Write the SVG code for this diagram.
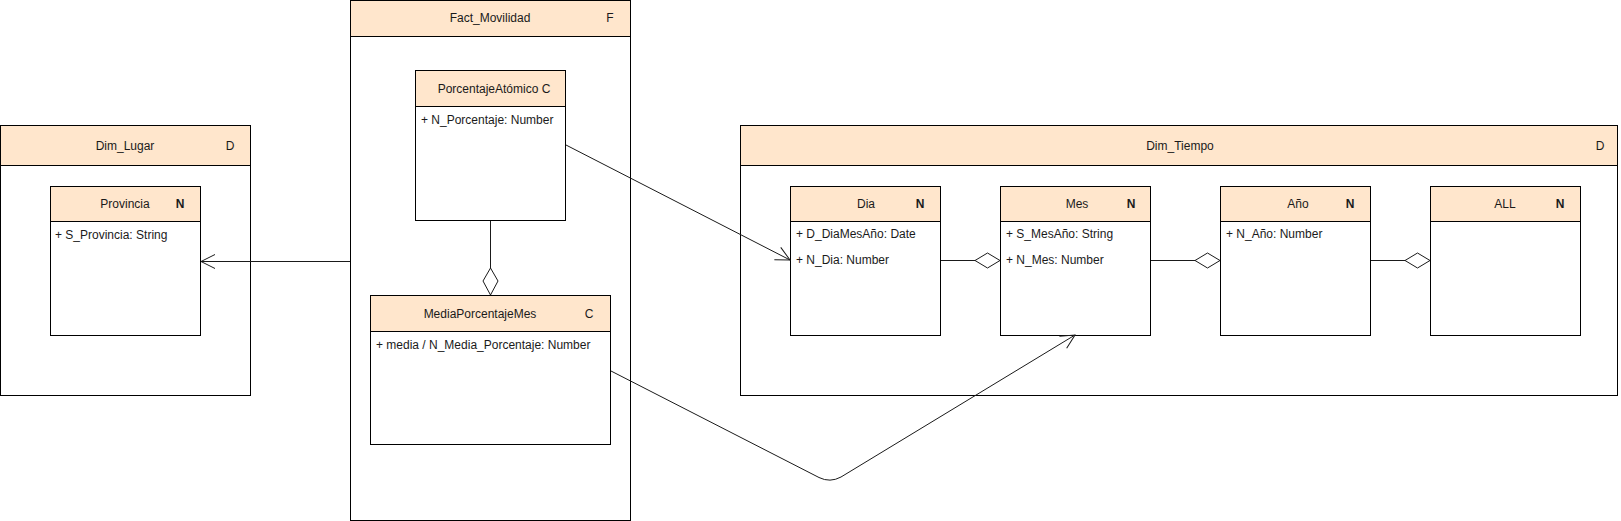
<svg xmlns="http://www.w3.org/2000/svg" width="1621" height="521" viewBox="0 0 1621 521">
<style>
.box{fill:#fff;stroke:#000;stroke-width:1}
.hdr{fill:#FFE6CC;stroke:#000;stroke-width:1}
text{font-family:"Liberation Sans",Arial,Helvetica,sans-serif;font-size:12px;fill:#1a1a1a}
.c{text-anchor:middle}
.b{font-weight:bold}
.edge{fill:none;stroke:#1a1a1a;stroke-width:1}
.agg{fill:#fff;stroke:#1a1a1a;stroke-width:1}
</style>
<defs>
<marker id="open" markerUnits="userSpaceOnUse" markerWidth="20" markerHeight="20" viewBox="-16 -10 20 20" refX="0" refY="0" orient="auto">
<path d="M-14,-7 L0,0 L-14,7" fill="none" stroke="#1a1a1a" stroke-width="1"/>
</marker>
</defs>
<rect width="1621" height="521" fill="#fff"/>

<g id="dim_lugar">
<rect class="box" x="0.5" y="125.5" width="250" height="270"/>
<rect class="hdr" x="0.5" y="125.5" width="250" height="40"/>
<text class="c" x="125" y="150">Dim_Lugar</text>
<text class="c" x="230" y="150">D</text>
</g>

<g id="provincia">
<rect class="box" x="50.5" y="186.5" width="150" height="149"/>
<rect class="hdr" x="50.5" y="186.5" width="150" height="35"/>
<text class="c" x="125" y="208">Provincia</text>
<text class="c b" x="180" y="208">N</text>
<text x="55" y="239">+ S_Provincia: String</text>
</g>

<g id="fact_movilidad">
<rect class="box" x="350.5" y="0.5" width="280" height="520"/>
<rect class="hdr" x="350.5" y="0.5" width="280" height="36"/>
<text class="c" x="490" y="22">Fact_Movilidad</text>
<text class="c" x="610" y="22">F</text>
</g>

<g id="porcentaje_atomico">
<rect class="box" x="415.5" y="70.5" width="150" height="150"/>
<rect class="hdr" x="415.5" y="70.5" width="150" height="36"/>
<text class="c" x="494" y="93">PorcentajeAtómico C</text>
<text x="421" y="124">+ N_Porcentaje: Number</text>
</g>

<g id="media_porcentaje_mes">
<rect class="box" x="370.5" y="295.5" width="240" height="149"/>
<rect class="hdr" x="370.5" y="295.5" width="240" height="36"/>
<text class="c" x="480" y="318">MediaPorcentajeMes</text>
<text class="c" x="589" y="318">C</text>
<text x="376" y="349">+ media / N_Media_Porcentaje: Number</text>
</g>

<g id="dim_tiempo">
<rect class="box" x="740.5" y="125.5" width="877" height="270"/>
<rect class="hdr" x="740.5" y="125.5" width="877" height="40"/>
<text class="c" x="1180" y="150">Dim_Tiempo</text>
<text class="c" x="1600" y="150">D</text>
</g>

<g id="dia">
<rect class="box" x="790.5" y="186.5" width="150" height="149"/>
<rect class="hdr" x="790.5" y="186.5" width="150" height="35"/>
<text class="c" x="866" y="208">Dia</text>
<text class="c b" x="920" y="208">N</text>
<text x="796" y="238">+ D_DiaMesAño: Date</text>
<text x="796" y="264">+ N_Dia: Number</text>
</g>

<g id="mes">
<rect class="box" x="1000.5" y="186.5" width="150" height="149"/>
<rect class="hdr" x="1000.5" y="186.5" width="150" height="35"/>
<text class="c" x="1077" y="208">Mes</text>
<text class="c b" x="1131" y="208">N</text>
<text x="1006" y="238">+ S_MesAño: String</text>
<text x="1006" y="264">+ N_Mes: Number</text>
</g>

<g id="anio">
<rect class="box" x="1220.5" y="186.5" width="150" height="149"/>
<rect class="hdr" x="1220.5" y="186.5" width="150" height="35"/>
<text class="c" x="1298" y="208">Año</text>
<text class="c b" x="1350" y="208">N</text>
<text x="1226" y="238">+ N_Año: Number</text>
</g>

<g id="all">
<rect class="box" x="1430.5" y="186.5" width="150" height="149"/>
<rect class="hdr" x="1430.5" y="186.5" width="150" height="35"/>
<text class="c" x="1505" y="208">ALL</text>
<text class="c b" x="1560" y="208">N</text>
</g>

<g id="connectors">
<path class="edge" d="M350,261.5 L201,261.5" marker-end="url(#open)"/>
<path class="edge" d="M566,145 L790,260" marker-end="url(#open)"/>
<path class="edge" d="M611,371 L819,477.5 Q830,483 841,477 L1075,335" marker-end="url(#open)"/>
<path class="edge" d="M490.5,221 L490.5,268"/>
<path class="agg" d="M490.5,268 L498,281 L490.5,295 L483,281 Z"/>
<path class="edge" d="M941,260.5 L975,260.5"/>
<path class="agg" d="M975,260.5 L987.5,253 L1000,260.5 L987.5,268 Z"/>
<path class="edge" d="M1151,260.5 L1195,260.5"/>
<path class="agg" d="M1195,260.5 L1207.5,253 L1220,260.5 L1207.5,268 Z"/>
<path class="edge" d="M1371,260.5 L1405,260.5"/>
<path class="agg" d="M1405,260.5 L1417.5,253 L1430,260.5 L1417.5,268 Z"/>
</g>
</svg>
